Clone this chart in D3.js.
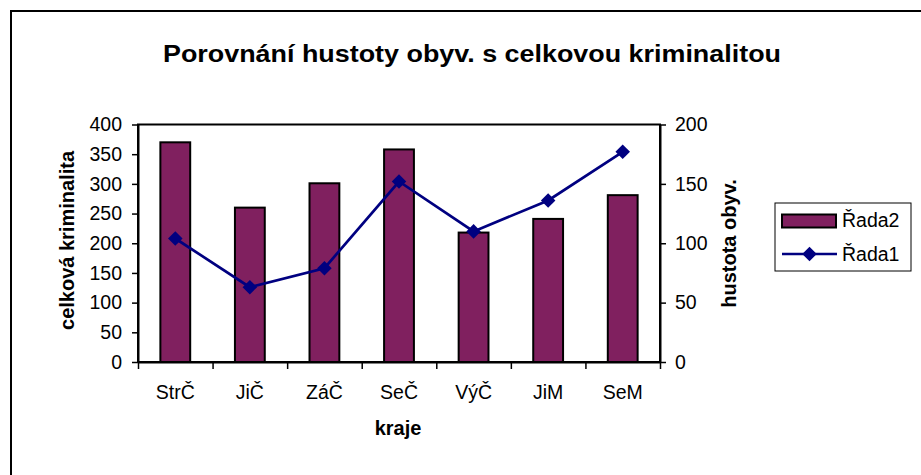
<!DOCTYPE html>
<html>
<head>
<meta charset="utf-8">
<script src="https://cdn.jsdelivr.net/npm/d3@7"></script>
<style>
  body { margin: 0; background: #fff; }
  text { font-family: Arial, "Liberation Sans", sans-serif; }
</style>
</head>
<body>
<svg></svg>
<script>
var width = 921;
var height = 475;

// data
var kraje = ["StrČ", "JiČ", "ZáČ", "SeČ", "VýČ", "JiM", "SeM"];
var kriminalita = [370, 260, 301, 358, 218, 241, 281];   // Řada2, left axis
var hustota = [104, 63, 79, 152, 110, 136, 177];         // Řada1, right axis
var leftTicks = [0, 50, 100, 150, 200, 250, 300, 350, 400];
var rightTicks = [0, 50, 100, 150, 200];

var plot = {left: 138, right: 660, top: 124.5, bottom: 362};
var fontSize = "19.5px";

var svg = d3.select("svg")
    .attr("width", width)
    .attr("height", height);

// outer frame (only top and left edges visible)
svg.append("path")
    .attr("d", "M11," + height + "V11H" + width)
    .attr("fill", "none")
    .attr("stroke", "#000")
    .attr("stroke-width", 2);

var xScale = d3.scaleBand()
    .domain(kraje)
    .range([plot.left, plot.right]);

var yLeft = d3.scaleLinear()
    .domain([0, 400])
    .range([plot.bottom, plot.top]);

var yRight = d3.scaleLinear()
    .domain([0, 200])
    .range([plot.bottom, plot.top]);

// plot area border
svg.append("rect")
    .attr("x", plot.left)
    .attr("y", plot.top)
    .attr("width", plot.right - plot.left)
    .attr("height", plot.bottom - plot.top)
    .attr("fill", "none")
    .attr("stroke", "#000")
    .attr("stroke-width", 2);

//bars
var barW = xScale.bandwidth() * 0.4;
svg.selectAll("rect.bar")
    .data(kriminalita)
    .enter()
    .append("rect")
        .attr("class", "bar")
        .attr("x", (d, i) => xScale(kraje[i]) + (xScale.bandwidth() - barW) / 2)
        .attr("y", d => yLeft(d))
        .attr("width", barW)
        .attr("height", d => plot.bottom - yLeft(d))
        .attr("fill", "#80205f")
        .attr("stroke", "#000")
        .attr("stroke-width", 2);

//left axis
var leftAxis = d3.axisLeft(yLeft)
    .tickValues(leftTicks)
    .tickSize(6)
    .tickSizeOuter(0)
    .tickPadding(10);
var gl = svg.append("g")
    .attr("transform", "translate(" + plot.left + ",0)")
    .call(leftAxis);

//right axis
var rightAxis = d3.axisRight(yRight)
    .tickValues(rightTicks)
    .tickSize(6)
    .tickSizeOuter(0)
    .tickPadding(9);
var gr = svg.append("g")
    .attr("transform", "translate(" + plot.right + ",0)")
    .call(rightAxis);

//x axis, ticks between categories
var xAxisScale = d3.scaleLinear().domain([0, kraje.length]).range([plot.left, plot.right]);
var gx = svg.append("g")
    .attr("transform", "translate(0," + plot.bottom + ")")
    .call(d3.axisBottom(xAxisScale).tickValues(d3.range(kraje.length + 1)).tickSize(7).tickSizeOuter(0).tickFormat(""));

[gl, gr, gx].forEach(function (g) {
    g.select(".domain").attr("stroke-width", 2);
    g.selectAll(".tick line").attr("stroke-width", 1.5);
    g.selectAll("text")
        .attr("fill", "#000")
        .style("font-size", fontSize)
        .style("font-family", "Arial, 'Liberation Sans', sans-serif");
});

svg.selectAll("text.cat")
    .data(kraje)
    .enter()
    .append("text")
        .attr("class", "cat")
        .attr("x", d => xScale(d) + xScale.bandwidth() / 2)
        .attr("y", 399)
        .style("text-anchor", "middle")
        .style("font-size", fontSize)
        .text(d => d);

//line series
var line = d3.line()
    .x((d, i) => xScale(kraje[i]) + xScale.bandwidth() / 2)
    .y(d => yRight(d));

svg.append("path")
    .datum(hustota)
    .attr("d", line)
    .attr("fill", "none")
    .attr("stroke", "#000080")
    .attr("stroke-width", 2.7);

var diamond = d3.symbol().type(d3.symbolDiamond2).size(135);
svg.selectAll("path.marker")
    .data(hustota)
    .enter()
    .append("path")
        .attr("class", "marker")
        .attr("transform", (d, i) => "translate(" + (xScale(kraje[i]) + xScale.bandwidth() / 2) + "," + yRight(d) + ")")
        .attr("d", diamond)
        .attr("fill", "#000080");

//title
svg.append("text")
    .attr("x", 472)
    .attr("y", 62)
    .style("text-anchor", "middle")
    .style("font-size", "23px")
    .style("font-weight", "bold")
    .attr("textLength", 618)
    .attr("lengthAdjust", "spacingAndGlyphs")
    .text("Porovnání hustoty obyv. s celkovou kriminalitou");

//axis titles
svg.append("text")
    .attr("x", 398)
    .attr("y", 435)
    .style("text-anchor", "middle")
    .style("font-size", "20px")
    .style("font-weight", "bold")
    .text("kraje");

svg.append("text")
    .attr("transform", "translate(73.5,240.5) rotate(-90)")
    .style("text-anchor", "middle")
    .style("font-size", "20px")
    .style("font-weight", "bold")
    .text("celková kriminalita");

svg.append("text")
    .attr("transform", "translate(736,243.5) rotate(-90)")
    .style("text-anchor", "middle")
    .style("font-size", "20px")
    .style("font-weight", "bold")
    .text("hustota obyv.");

//legend
var lg = svg.append("g");
lg.append("rect")
    .attr("x", 775).attr("y", 203)
    .attr("width", 136).attr("height", 68)
    .attr("fill", "#fff")
    .attr("stroke", "#000")
    .attr("stroke-width", 1);
lg.append("rect")
    .attr("x", 782).attr("y", 214.5)
    .attr("width", 54).attr("height", 13)
    .attr("fill", "#80205f")
    .attr("stroke", "#000")
    .attr("stroke-width", 2);
lg.append("text")
    .attr("x", 842).attr("y", 227)
    .style("font-size", fontSize)
    .text("Řada2");
lg.append("line")
    .attr("x1", 782).attr("x2", 837)
    .attr("y1", 254).attr("y2", 254)
    .attr("stroke", "#000080")
    .attr("stroke-width", 2.7);
lg.append("path")
    .attr("transform", "translate(809.5,254)")
    .attr("d", diamond)
    .attr("fill", "#000080");
lg.append("text")
    .attr("x", 842).attr("y", 261)
    .style("font-size", fontSize)
    .text("Řada1");
</script>
</body>
</html>
